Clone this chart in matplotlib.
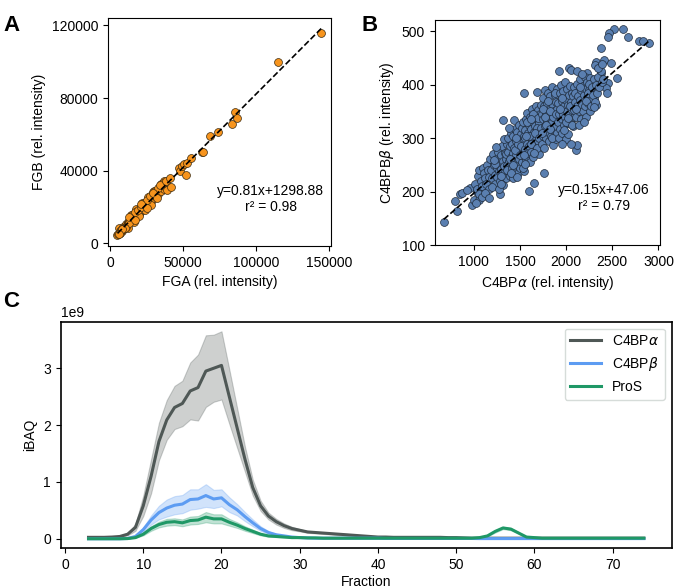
import numpy as np
import matplotlib
matplotlib.use("Agg")
import matplotlib.pyplot as plt
from matplotlib.ticker import ScalarFormatter

plt.rcParams['font.family'] = ['Liberation Sans', 'DejaVu Sans']
plt.rcParams['font.size'] = 10

## panel A - FGA vs FGB
fga = [5000, 5500, 6000, 6500, 7000, 7500, 8000, 8500, 9000, 9500,
       10000, 10500, 11000, 11500, 12000, 12500, 13000, 13500, 14000, 14500,
       15000, 15500, 16000, 16500, 17000, 17500, 18000, 18500, 19000, 19500,
       20000, 20500, 21000, 21500, 22000, 22500, 23000, 23500, 24000, 24500,
       25000, 25500, 26000, 26500, 27000, 27500, 28000, 28500, 29000, 29500,
       30000, 31000, 32000, 33000, 34000, 35000, 36000, 37000, 38000, 39000,
       12000, 14000, 16000, 18000, 20000, 22000, 24000, 26000, 28000, 30000,
       15000, 17000, 19000, 21000, 23000, 25000, 27000, 29000, 31000, 33000,
       35000, 37000, 36000, 34000, 38000, 9000, 11000, 13000, 7000, 10000,
       8000, 6000, 13000, 17000, 21000, 25000, 29000, 32000,
       40800, 41400, 47300, 47700, 49500, 50500, 51600, 52500, 55000, 62800,
       63500, 68000, 73600, 83100, 85400, 86500, 114900, 144600]
fgb = [4500, 5200, 8300, 5800, 6600, 7000, 6800, 7900, 8800, 8200,
       9500, 9000, 10600, 10200, 11500, 10400, 12300, 11600, 13400, 12500,
       14000, 13200, 15100, 14300, 15600, 14800, 16400, 15500, 17300, 16200,
       18200, 17000, 19000, 18000, 19800, 18800, 20800, 19600, 21500, 20600,
       22600, 21300, 23600, 22000, 24800, 23000, 25500, 24000, 26500, 25000,
       27200, 26000, 28500, 27300, 29800, 28500, 31500, 30000, 33500, 29500,
       8500, 15500, 11500, 18800, 15000, 22000, 18000, 25500, 21000, 28500,
       15300, 17000, 18500, 20000, 22000, 24000, 26000, 28000, 28500, 30500,
       32500, 34000, 33000, 31800, 34500, 7500, 9000, 11000, 5600, 8200,
       7600, 5000, 14500, 12500, 21500, 19500, 27500, 25000,
       35900, 30800, 41500, 39600, 42400, 43700, 37400, 44000, 46800, 50300,
       50000, 59000, 61200, 65400, 72400, 68800, 99900, 115600]
fit_a = (0.81, 1298.88)

## panel B - C4BPa vs C4BPb, (alpha, beta) pairs
b_pairs = [
    # sparse outliers
    (2520, 504), (2618, 504), (2466, 496), (2448, 490), (2665, 490), (2900, 478),
    (2792, 481), (2828, 481), (2376, 468), (2321, 443), (2310, 437), (2412, 446),
    (2484, 440), (2376, 421), (2549, 412), (2448, 403), (2430, 394), (2441, 384),
    (2303, 375), (2321, 362), (2104, 278), (2122, 287), (1923, 425), (2032, 431),
    (2050, 428), (2122, 425), (2231, 421), (1543, 384), (1688, 387), (1319, 334),
    (1434, 334), (1760, 235), (1652, 216), (1597, 202), (1279, 195), (674, 144),
    (819, 163), (801, 183), (855, 196), (873, 197), (964, 206), (928, 203),
    (982, 175), (1000, 185), (1054, 185), (1109, 194), (1072, 200), (1036, 200),
    (1163, 210),
    # x 1000-1180
    (1010, 215), (1030, 205), (1045, 230), (1060, 240), (1075, 220), (1090, 210),
    (1100, 245), (1110, 235), (1120, 225), (1135, 215), (1140, 250), (1150, 240),
    (1160, 228), (1170, 205), (1180, 262), (1055, 195), (1085, 190), (1125, 198),
    (1165, 188), (1020, 178),
    # x 1180-1360
    (1190, 240), (1200, 225), (1210, 270), (1215, 250), (1225, 232), (1230, 215),
    (1240, 262), (1250, 245), (1255, 228), (1265, 275), (1270, 238), (1280, 255),
    (1285, 220), (1290, 268), (1300, 242), (1305, 230), (1310, 285), (1315, 258),
    (1320, 212), (1330, 248), (1335, 272), (1340, 236), (1345, 262), (1350, 225),
    (1355, 290), (1360, 250), (1195, 208), (1245, 283), (1275, 205), (1325, 298),
    (1235, 252), (1290, 230), (1350, 270), (1220, 260), (1300, 215),
    # x 1360-1545
    (1365, 240), (1370, 275), (1375, 300), (1380, 258), (1390, 230), (1395, 285),
    (1400, 265), (1405, 310), (1410, 245), (1415, 290), (1420, 272), (1425, 225),
    (1430, 305), (1435, 258), (1440, 282), (1445, 318), (1450, 240), (1455, 295),
    (1460, 268), (1465, 250), (1470, 312), (1475, 280), (1480, 235), (1485, 300),
    (1490, 262), (1495, 325), (1500, 288), (1505, 245), (1510, 308), (1515, 275),
    (1520, 255), (1525, 320), (1530, 292), (1535, 268), (1540, 305), (1545, 238),
    (1390, 262), (1420, 250), (1450, 278), (1480, 290), (1510, 285), (1535, 330),
    (1400, 235), (1460, 300), (1500, 268), (1380, 320), (1470, 228), (1530, 245),
    # x 1545-1725
    (1550, 280), (1555, 315), (1560, 300), (1565, 262), (1570, 335), (1575, 290),
    (1580, 348), (1585, 272), (1590, 310), (1595, 325), (1600, 285), (1605, 255),
    (1610, 340), (1615, 300), (1620, 318), (1625, 275), (1630, 355), (1635, 295),
    (1640, 330), (1645, 265), (1650, 312), (1655, 345), (1660, 288), (1665, 322),
    (1670, 360), (1675, 302), (1680, 278), (1685, 338), (1690, 315), (1695, 352),
    (1700, 295), (1705, 328), (1710, 270), (1715, 345), (1720, 308), (1725, 362),
    (1560, 252), (1600, 305), (1640, 345), (1680, 320), (1700, 338), (1570, 305),
    (1620, 290), (1660, 310), (1690, 282), (1580, 330), (1650, 272), (1710, 300),
    (1545, 268), (1625, 335),
    # x 1725-1905
    (1730, 320), (1735, 290), (1740, 345), (1745, 375), (1750, 305), (1755, 335),
    (1760, 360), (1765, 282), (1770, 322), (1775, 390), (1780, 348), (1785, 300),
    (1790, 332), (1795, 365), (1800, 312), (1805, 385), (1810, 340), (1815, 295),
    (1820, 355), (1825, 325), (1830, 378), (1835, 305), (1840, 345), (1845, 395),
    (1850, 330), (1855, 362), (1860, 288), (1865, 350), (1870, 315), (1875, 380),
    (1880, 338), (1885, 298), (1890, 368), (1895, 322), (1900, 355), (1905, 392),
    (1740, 310), (1780, 325), (1820, 318), (1860, 340), (1900, 310), (1750, 355),
    (1800, 370), (1850, 300), (1880, 385), (1770, 340), (1830, 350), (1890, 345),
    # x 1905-2090
    (1910, 330), (1915, 365), (1920, 300), (1925, 345), (1930, 385), (1935, 318),
    (1940, 352), (1945, 400), (1950, 335), (1955, 370), (1960, 310), (1965, 345),
    (1970, 388), (1975, 325), (1980, 360), (1985, 405), (1990, 340), (1995, 298),
    (2000, 372), (2005, 350), (2010, 392), (2015, 328), (2020, 362), (2025, 308),
    (2030, 380), (2035, 345), (2040, 398), (2045, 332), (2050, 368), (2055, 290),
    (2060, 352), (2065, 385), (2070, 322), (2075, 360), (2080, 340), (2085, 395),
    (1930, 355), (1960, 375), (2000, 330), (2040, 360), (2070, 378), (1950, 290),
    (2020, 338), (2060, 325), (1980, 315), (2090, 352),
    # x 2090-2270
    (2095, 368), (2100, 385), (2110, 340), (2115, 402), (2120, 360), (2130, 378),
    (2140, 350), (2145, 410), (2150, 372), (2160, 390), (2165, 335), (2170, 362),
    (2180, 398), (2185, 350), (2190, 380), (2200, 415), (2205, 360), (2210, 392),
    (2220, 340), (2225, 375), (2230, 405), (2240, 365), (2250, 390), (2255, 350),
    (2260, 412), (2265, 375), (2135, 325), (2175, 420), (2215, 370), (2245, 402),
    (2105, 355), (2155, 395), (2195, 330), (2235, 385), (2270, 360),
    # x 2270-2400
    (2280, 395), (2290, 380), (2300, 410), (2310, 368), (2320, 400), (2330, 385),
    (2345, 415), (2360, 395), (2375, 425), (2390, 405), (2300, 358), (2340, 432),
    (2385, 438), (2400, 410),
]
fit_b = (0.15, 47.06)

## panel C - SEC profiles (iBAQ in units of 1e9), fractions 3..74
fractions = list(range(3, 75))
c4bpa_mean = [0.025, 0.025, 0.025, 0.03, 0.04,
              0.08, 0.20, 0.58, 1.10, 1.71,
              2.09, 2.31, 2.38, 2.60, 2.66,
              2.95, 3.00, 3.05, 2.50, 1.95,
              1.40, 0.90, 0.58, 0.40, 0.30,
              0.23, 0.18, 0.15, 0.12, 0.11,
              0.10, 0.09, 0.08, 0.07, 0.06,
              0.05, 0.04, 0.03, 0.03, 0.025,
              0.025, 0.025, 0.025, 0.025, 0.025,
              0.025, 0.02, 0.02, 0.015, 0.01,
              0.01, 0.01, 0.01, 0.01, 0.01,
              0.01, 0.01, 0.01, 0.01, 0.01,
              0.01, 0.01, 0.01, 0.01, 0.01,
              0.01, 0.01, 0.01, 0.01, 0.01,
              0.01, 0.01]
c4bpa_sd = [0.01, 0.01, 0.01, 0.01, 0.01,
            0.02, 0.06, 0.18, 0.30, 0.33,
            0.35, 0.38, 0.40, 0.50, 0.58,
            0.63, 0.59, 0.60, 0.48, 0.35,
            0.22, 0.14, 0.09, 0.06, 0.05,
            0.04, 0.03, 0.02, 0.015, 0.015,
            0.015, 0.015, 0.015, 0.015, 0.015,
            0.01, 0.01, 0.01, 0.01, 0.005,
            0.005, 0.005, 0.005, 0.005, 0.005,
            0.005, 0.005, 0.005, 0.005, 0.005,
            0.005, 0.005, 0.005, 0.005, 0.005,
            0.005, 0.005, 0.005, 0.005, 0.005,
            0.005, 0.005, 0.005, 0.005, 0.005,
            0.005, 0.005, 0.005, 0.005, 0.005,
            0.005, 0.005]
c4bpb_mean = [0.0, 0.0, 0.0, 0.0, 0.0,
              0.005, 0.04, 0.16, 0.33, 0.46,
              0.54, 0.59, 0.61, 0.69, 0.70,
              0.76, 0.70, 0.72, 0.60, 0.51,
              0.39, 0.28, 0.18, 0.11, 0.07,
              0.05, 0.03, 0.02, 0.015, 0.01,
              0.01, 0.01, 0.01, 0.01, 0.01,
              0.01, 0.01, 0.01, 0.005, 0.005,
              0.005, 0.005, 0.005, 0.005, 0.005,
              0.005, 0.005, 0.005, 0.005, 0.005,
              0.003, 0.003, 0.003, 0.003, 0.003,
              0.003, 0.003, 0.003, 0.003, 0.003,
              0.003, 0.003, 0.003, 0.003, 0.003,
              0.003, 0.003, 0.003, 0.003, 0.003,
              0.003, 0.003]
c4bpb_sd = [0.0, 0.0, 0.0, 0.0, 0.0,
            0.002, 0.01, 0.04, 0.08, 0.12,
            0.15, 0.16, 0.16, 0.18, 0.17,
            0.20, 0.16, 0.15, 0.13, 0.10,
            0.08, 0.06, 0.04, 0.025, 0.015,
            0.01, 0.005, 0.005, 0.003, 0.003,
            0.003, 0.003, 0.003, 0.003, 0.003,
            0.003, 0.003, 0.003, 0.003, 0.003,
            0.003, 0.003, 0.003, 0.003, 0.003,
            0.003, 0.003, 0.003, 0.003, 0.003,
            0.003, 0.003, 0.003, 0.003, 0.003,
            0.003, 0.003, 0.003, 0.003, 0.003,
            0.003, 0.003, 0.003, 0.003, 0.003,
            0.003, 0.003, 0.003, 0.003, 0.003,
            0.003, 0.003]
pros_mean = [0.0, 0.0, 0.0, 0.0, 0.0,
             0.003, 0.02, 0.08, 0.18, 0.25,
             0.29, 0.30, 0.28, 0.32, 0.33,
             0.38, 0.35, 0.35, 0.29, 0.24,
             0.18, 0.13, 0.08, 0.05, 0.04,
             0.03, 0.02, 0.02, 0.015, 0.015,
             0.01, 0.01, 0.01, 0.01, 0.01,
             0.01, 0.01, 0.01, 0.01, 0.01,
             0.01, 0.01, 0.01, 0.01, 0.01,
             0.01, 0.01, 0.01, 0.01, 0.01,
             0.02, 0.05, 0.13, 0.19, 0.17,
             0.10, 0.03, 0.02, 0.01, 0.01,
             0.01, 0.01, 0.01, 0.01, 0.01,
             0.01, 0.01, 0.01, 0.01, 0.01,
             0.01, 0.01]
pros_sd = [0.0, 0.0, 0.0, 0.0, 0.0,
           0.001, 0.005, 0.02, 0.04, 0.05,
           0.06, 0.06, 0.06, 0.07, 0.07,
           0.09, 0.08, 0.08, 0.06, 0.05,
           0.04, 0.03, 0.02, 0.015, 0.01,
           0.005, 0.005, 0.005, 0.005, 0.005,
           0.005, 0.005, 0.005, 0.005, 0.005,
           0.005, 0.005, 0.005, 0.005, 0.005,
           0.005, 0.005, 0.005, 0.005, 0.005,
           0.005, 0.005, 0.005, 0.005, 0.005,
           0.005, 0.01, 0.02, 0.02, 0.02,
           0.015, 0.01, 0.005, 0.005, 0.005,
           0.005, 0.005, 0.005, 0.005, 0.005,
           0.005, 0.005, 0.005, 0.005, 0.005,
           0.005, 0.005]

fig = plt.figure(figsize=(6.75, 5.88), dpi=100)

## ----- panel A
axA = fig.add_axes([0.160, 0.582, 0.330, 0.387])
axA.scatter(fga, fgb, s=32, color='#f7941d', edgecolor='#3a2a10', linewidth=0.5, zorder=2)
xa = np.array([min(fga), max(fga)])
axA.plot(xa, fit_a[0] * xa + fit_a[1], '--', color='black', lw=1.2, zorder=3)
axA.set_xlim(-1500, 151000)
axA.set_ylim(-1500, 124000)
axA.set_xticks([0, 50000, 100000, 150000])
axA.set_yticks([0, 40000, 80000, 120000])
axA.set_xlabel('FGA (rel. intensity)')
axA.set_ylabel('FGB (rel. intensity)')
axA.text(0.73, 0.24, 'y=0.81x+1298.88', transform=axA.transAxes, ha='center', va='center')
axA.text(0.73, 0.17, 'r\u00b2 = 0.98', transform=axA.transAxes, ha='center', va='center')
fig.text(0.005, 0.975, 'A', fontsize=16, fontweight='bold', va='top')

## ----- panel B
c4bpa = np.array([p[0] for p in b_pairs])
c4bpb = np.array([p[1] for p in b_pairs])
axB = fig.add_axes([0.644, 0.583, 0.334, 0.383])
axB.scatter(c4bpa, c4bpb, s=32, color='#5a7fb0', edgecolor='#1e2a3a', linewidth=0.5, zorder=2)
xb = np.array([c4bpa.min(), c4bpa.max()])
axB.plot(xb, fit_b[0] * xb + fit_b[1], '--', color='black', lw=1.2, zorder=3)
axB.set_xlim(577, 3018)
axB.set_ylim(100, 521)
axB.set_xticks([1000, 1500, 2000, 2500, 3000])
axB.set_yticks([100, 200, 300, 400, 500])
axB.set_xlabel(r'C4BP$\alpha$ (rel. intensity)')
axB.set_ylabel(r'C4BPB$\beta$ (rel. intensity)')
axB.text(0.75, 0.244, 'y=0.15x+47.06', transform=axB.transAxes, ha='center', va='center')
axB.text(0.75, 0.173, 'r\u00b2 = 0.79', transform=axB.transAxes, ha='center', va='center')
fig.text(0.535, 0.975, 'B', fontsize=16, fontweight='bold', va='top')

## ----- panel C
axC = fig.add_axes([0.090, 0.068, 0.905, 0.385])
fr = np.array(fractions)
series = [
    (c4bpa_mean, c4bpa_sd, '#4f5856', r'C4BP$\alpha$'),
    (c4bpb_mean, c4bpb_sd, '#5d9cf2', r'C4BP$\beta$'),
    (pros_mean, pros_sd, '#1f9866', 'ProS'),
]
for mean, sd, col, lab in series:
    m = np.array(mean) * 1e9
    s = np.array(sd) * 1e9
    axC.fill_between(fr, m - s, m + s, color=col, alpha=0.28, linewidth=0.8)
    axC.plot(fr, m, color=col, lw=2.2, label=lab)
axC.set_xlim(-0.55, 77.55)
axC.set_ylim(-0.163e9, 3.82e9)
axC.set_xticks(range(0, 80, 10))
axC.set_yticks([0, 1e9, 2e9, 3e9])
fmt = ScalarFormatter(useMathText=False)
fmt.set_scientific(True)
fmt.set_powerlimits((0, 0))
axC.yaxis.set_major_formatter(fmt)
axC.set_xlabel('Fraction', labelpad=2)
axC.set_ylabel('iBAQ')
leg = axC.legend(loc='upper right', fontsize=10, handlelength=2.2, framealpha=1)
leg.get_frame().set_edgecolor('#d6dcd9')
for sp in axC.spines.values():
    sp.set_linewidth(1.2)
fig.text(0.005, 0.505, 'C', fontsize=16, fontweight='bold', va='top')

fig.savefig('out.png', dpi=100)
